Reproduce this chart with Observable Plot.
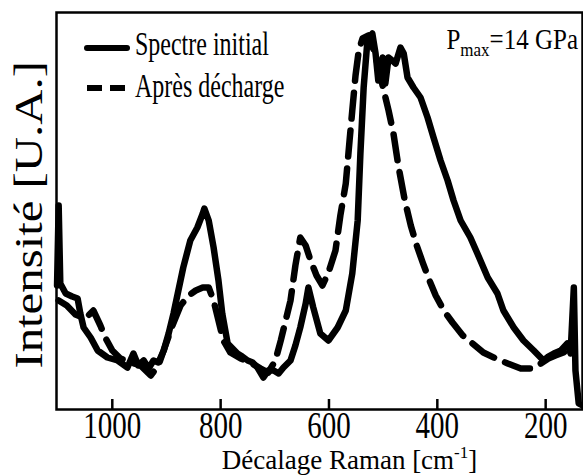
<!DOCTYPE html>
<html><head><meta charset="utf-8">
<script src="https://cdn.jsdelivr.net/npm/d3@7"></script>
<script src="https://cdn.jsdelivr.net/npm/@observablehq/plot@0.6"></script>
<style>body{margin:0;background:#fff}</style>
</head><body><div id="chart"></div>
<script>
const FONT = "'Liberation Serif', Tinos, 'Times New Roman', 'Nimbus Roman', 'DejaVu Serif', serif";

// Spectre initial (solid)
const solidShift = [
  1102,1099,1096,1086,1074,1064,1059,1053,1040,1027,
  1009,990,972,961,952,942,933,924,915,905,
  896,887,878,869,856,843,833,830,822,813,
  804,797,787,778,769,760,750,741,732,721,
  712,702,693,684,671,662,653,643,638,629,
  616,601,584,569,557,547,542,536,529,520,
  514,509,501,496,490,483,477,468,462,455,
  444,431,418,407,394,381,370,357,339,326,
  307,289,278,259,241,222,204,195,185,172,
  160,154,148,145,139,132];
const solidIntensity = [
  124,204,126,116,113,111,96,82,72,59,
  52,49,42,56,44,49,41,49,47,59,
  76,96,119,142,169,182,196,201,189,162,
  129,96,66,61,56,53,49,47,42,32,
  39,39,36,42,49,64,82,106,122,102,
  76,69,82,99,136,189,256,322,369,376,
  356,329,352,326,352,349,346,362,356,332,
  322,312,292,272,249,229,209,189,172,156,
  132,116,99,82,69,59,49,53,56,59,
  66,56,122,39,6,4];

// Après décharge (dashed)
const dashShift = [
  1099,1084,1068,1050,1035,1022,1013,1000,985,966,
  948,929,915,902,889,874,859,846,833,822,
  813,804,795,782,763,745,726,712,699,689,
  680,671,662,653,643,634,623,612,601,588,
  579,569,562,557,551,545,538,527,514,501,
  490,481,472,460,449,438,427,416,403,388,
  372,353,335,315,292,270,246,228,209,195,
  182,158];
const dashIntensity = [
  109,104,95,91,99,84,72,59,51,47,
  44,34,44,64,84,104,114,119,122,122,
  109,89,69,57,51,47,41,37,49,69,
  89,109,144,172,164,149,134,124,137,159,
  194,226,269,299,334,359,371,374,354,324,
  299,276,244,209,184,164,147,131,114,99,
  87,74,66,57,51,46,41,41,46,51,
  54,59];

const xTicks = [1000, 800, 600, 400, 200];
const seriesNames = ["Spectre initial", "Après décharge"];
const seriesDash = [null, "15,8"];
const yTitle = "Intensité [U.A.]";
const xTitleParts = ["Décalage Raman [cm", "-1", "]"];
const pParts = ["P", "max", "=14 GPa"];

const solid = solidShift.map((v, k) => ({v, i: solidIntensity[k]}));
const dashed = dashShift.map((v, k) => ({v, i: dashIntensity[k]}));

function legendMark() {
  const g = d3.create("svg:g").attr("font-family", FONT).attr("fill", "black").attr("text-anchor", "start");
  const rows = [48, 88], base = [55, 97];
  seriesNames.forEach((name, k) => {
    g.append("line").attr("x1", 87).attr("x2", 127).attr("y1", rows[k]).attr("y2", rows[k])
      .attr("stroke", "black").attr("stroke-width", 6)
      .attr("stroke-linecap", k === 0 ? "round" : "butt")
      .attr("stroke-dasharray", seriesDash[k]);
    g.append("text").attr("transform", `translate(135,${base[k]}) scale(1,1.37)`)
      .attr("font-size", 24).text(name);
  });
  return g.node();
}
function pMark() {
  const g = d3.create("svg:g").attr("font-family", FONT).attr("fill", "black");
  const t = g.append("text").attr("transform", "translate(578,49) scale(1,1.15)")
    .attr("text-anchor", "end").attr("font-size", 25);
  t.append("tspan").text(pParts[0]);
  t.append("tspan").attr("font-size", 17).attr("dy", 6).text(pParts[1]);
  t.append("tspan").attr("dy", -6).text(pParts[2]);
  return g.node();
}

const plot = Plot.plot({
  width: 583, height: 475,
  marginLeft: 56, marginRight: 1, marginTop: 12, marginBottom: 66,
  style: {fontFamily: FONT, background: "white", color: "black", overflow: "visible"},
  x: {domain: [1103, 132]},
  y: {domain: [0, 397], axis: null},
  marks: [
    Plot.line(dashed, {x: "v", y: "i", stroke: "black", strokeWidth: 6.5, strokeDasharray: "26,12", strokeLinejoin: "round"}),
    Plot.line(solid, {x: "v", y: "i", stroke: "black", strokeWidth: 6.5, strokeLinejoin: "round"}),
    Plot.frame({stroke: "black", strokeWidth: 2.5}),
    Plot.axisX(xTicks, {tickSize: -10, tickPadding: 11, fontSize: 29, label: null, strokeWidth: 2.5, tickFormat: (d) => String(d)}),
    Plot.text([xTitleParts.join("")], {frameAnchor: "bottom", dx: 30, dy: 59, fontSize: 27, lineAnchor: "bottom"}),
    Plot.text([yTitle], {frameAnchor: "left", rotate: -90, dx: -27, dy: 5, fontSize: 40, textAnchor: "middle"}),
    legendMark, pMark
  ]
});

const svg = d3.select(plot);
svg.attr("font-family", FONT);
function stretch(sel, py, s) {
  sel.each(function() {
    const T = this.getAttribute("transform") || "";
    this.setAttribute("transform", `translate(0,${py}) scale(1,${s}) translate(0,${-py}) ${T}`);
  });
}
const tickStrings = xTicks.map(String);
stretch(svg.selectAll("text").filter(function() { return tickStrings.includes(this.textContent); }), 409, 1.33);
stretch(svg.selectAll("text").filter(function() { return this.textContent === yTitle; }), 216, 1.22);
const xt = svg.selectAll("text").filter(function() { return this.textContent === xTitleParts.join(""); });
xt.text(null);
xt.append("tspan").text(xTitleParts[0]);
xt.append("tspan").attr("font-size", 17).attr("dy", -11).text(xTitleParts[1]);
xt.append("tspan").attr("dy", 11).text(xTitleParts[2]);

document.getElementById("chart").appendChild(plot);
</script>
</body></html>
